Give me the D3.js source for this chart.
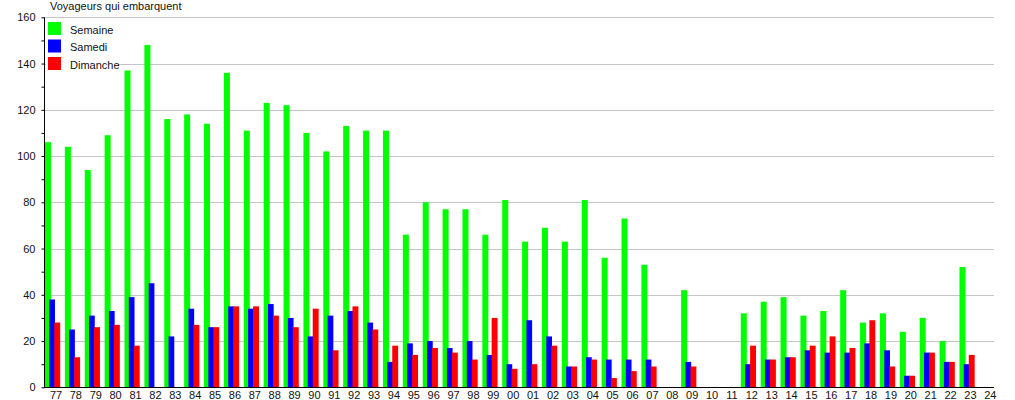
<!DOCTYPE html>
<html><head><meta charset="utf-8">
<script src="https://cdn.jsdelivr.net/npm/d3@7"></script>
<style>body{margin:0;background:#fff}svg{display:block}text{font-family:"Liberation Sans",Arial,sans-serif;font-size:11px;fill:#111}</style>
</head><body><svg id="c" width="1015" height="400"></svg>
<script>
const categories = ["77","78","79","80","81","82","83","84","85","86","87","88","89","90","91","92","93","94","95","96","97","98","99","00","01","02","03","04","05","06","07","08","09","10","11","12","13","14","15","16","17","18","19","20","21","22","23","24"];
const semaine  = [106,104,94,109,137,148,116,118,114,136,111,123,122,110,102,113,111,111,66,80,77,77,66,81,63,69,63,81,56,73,53,0,42,0,0,32,37,39,31,33,42,28,32,24,30,20,52,0];
const samedi   = [38,25,31,33,39,45,22,34,26,35,34,36,30,22,31,33,28,11,19,20,17,20,14,10,29,22,9,13,12,12,12,0,11,0,0,10,12,13,16,15,15,19,16,5,15,11,10,0];
const dimanche = [28,13,26,27,18,0,0,27,26,35,35,31,26,34,16,35,25,18,14,17,15,12,30,8,10,18,9,12,4,7,9,0,9,0,0,18,12,13,18,22,17,29,9,5,15,11,14,0];
const seriesNames = ["Semaine","Samedi","Dimanche"];
const colors = ["#00ff00","#0000ff","#ff0000"];
const yTicks = [0,20,40,60,80,100,120,140,160];
const title = "Voyageurs qui embarquent";

(function(){
const svg = d3.select("#c");
const left = 45, right = 994, bottom = 387.3, topY = 17.3;
const x = d3.scaleBand().domain(categories).range([left, left + 48*19.88]).padding(0);
const y = d3.scaleLinear().domain([0,160]).range([bottom, topY]);

// gridlines
svg.append("g").selectAll("line").data(yTicks.filter(d=>d>0)).join("line")
  .attr("x1", left).attr("x2", right).attr("y1", d=>Math.round(y(d))+0.5).attr("y2", d=>Math.round(y(d))+0.5)
  .attr("stroke", "#c4c4c4").attr("stroke-width", 1);

// bars
const series = [semaine, samedi, dimanche];
const offs = [0, 4.3, 9.3], widths = [6, 5.7, 5.9];
series.forEach((vals, si) => {
  svg.append("g").selectAll("rect").data(vals.map((v,i)=>({c:categories[i], v}))).join("rect")
    .attr("x", d => x(d.c) + offs[si]).attr("width", widths[si])
    .attr("y", d => y(d.v)).attr("height", d => y(0) - y(d.v))
    .attr("fill", colors[si]);
});

// y axis
const ya = svg.append("g").attr("transform", `translate(${left-0.5},0)`)
  .call(d3.axisLeft(y).tickValues(d3.range(0,161,10)).tickSize(3).tickFormat(d => d % 20 === 0 ? d : ""));
ya.select(".domain").attr("stroke", "#000").attr("d", `M0,${topY}V${bottom}`);
ya.selectAll(".tick line").attr("stroke", "#000");
ya.selectAll(".tick text").attr("x", -9).style("font-size","11px").style("font-family","Liberation Sans, Arial, sans-serif").attr("fill","#111");

// x axis
svg.append("line").attr("x1", left-1).attr("x2", right).attr("y1", Math.round(bottom)+0.5).attr("y2", Math.round(bottom)+0.5).attr("stroke","#000");
svg.append("g").selectAll("text").data(categories).join("text")
  .attr("x", d => x(d) + 11).attr("y", 399).attr("text-anchor","middle").text(d=>d);

// title
svg.append("text").attr("x", 50).attr("y", 10).text(title);

// legend
const lg = svg.append("g");
lg.append("rect").attr("x", 46).attr("y", 19).attr("width", 72).attr("height", 53).attr("fill", "#fff");
seriesNames.forEach((n,i) => {
  lg.append("rect").attr("x", 48).attr("y", 22 + i*17.5).attr("width", 13).attr("height", 13).attr("fill", colors[i]);
  lg.append("text").attr("x", 70).attr("y", 33.5 + i*17.5).text(n);
});
})();
</script></body></html>
